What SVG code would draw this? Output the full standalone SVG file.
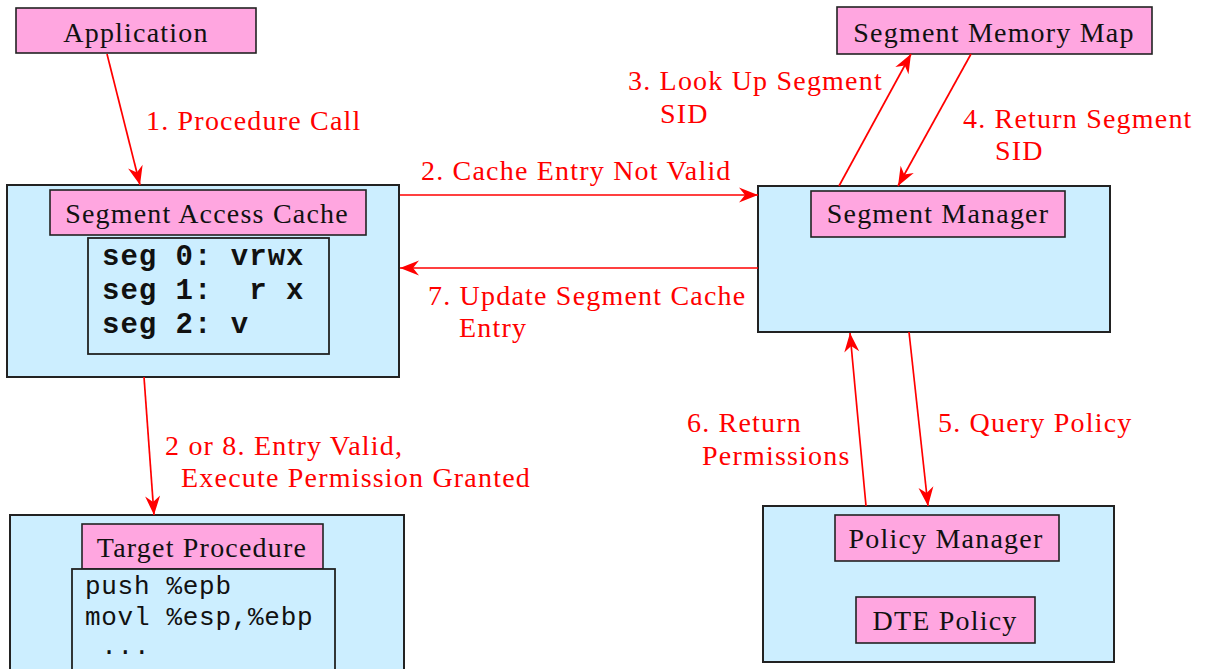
<svg xmlns="http://www.w3.org/2000/svg" width="1206" height="669" viewBox="0 0 1206 669">
<style>
.outer{fill:#cceeff;stroke:#222;stroke-width:2}
.lbl{fill:#ffa6e0;stroke:#222;stroke-width:1.6}
.code{fill:#cceeff;stroke:#222;stroke-width:1.8}
.t{font-family:"Liberation Serif","Times New Roman",serif;font-size:28px;letter-spacing:1.2px;fill:#111;text-anchor:middle}
.r{font-family:"Liberation Serif","Times New Roman",serif;font-size:28px;letter-spacing:1.2px;fill:#ff0000}
.mb{font-family:"Liberation Mono","Courier New",monospace;font-size:29px;font-weight:bold;letter-spacing:1px;fill:#111}
.m{font-family:"Liberation Mono","Courier New",monospace;font-size:26px;letter-spacing:0.7px;fill:#111}
.c{stroke:#ff0000;stroke-width:1.7;fill:none;marker-end:url(#ah)}
</style>
<defs>
<marker id="ah" markerUnits="userSpaceOnUse" markerWidth="22" markerHeight="18" viewBox="-20 -9 22 18" refX="0" refY="0" orient="auto">
<path d="M0,0 L-19,-7.5 L-13,0 L-19,7.5 Z" fill="#ff0000"/>
</marker>
</defs>
<rect width="1206" height="669" fill="#fff"/>

<g id="application">
<rect class="lbl" x="16" y="8" width="240" height="45"/>
<text class="t" x="136" y="42">Application</text>
</g>

<g id="segment-access-cache">
<rect class="outer" x="7" y="185" width="392" height="192"/>
<rect class="lbl" x="50" y="190" width="316" height="45"/>
<text class="t" x="207" y="223">Segment Access Cache</text>
<rect class="code" x="88" y="238" width="241" height="116"/>
<text class="mb" x="102" y="265" xml:space="preserve">seg 0: vrwx</text>
<text class="mb" x="102" y="299" xml:space="preserve">seg 1:  r x</text>
<text class="mb" x="102" y="333" xml:space="preserve">seg 2: v</text>
</g>

<g id="segment-memory-map">
<rect class="lbl" x="837" y="7" width="315" height="47"/>
<text class="t" x="994" y="42">Segment Memory Map</text>
</g>

<g id="segment-manager">
<rect class="outer" x="758" y="186" width="352" height="146"/>
<rect class="lbl" x="811" y="191" width="254" height="46"/>
<text class="t" x="938" y="223">Segment Manager</text>
</g>

<g id="target-procedure">
<rect class="outer" x="10" y="515" width="394" height="170"/>
<rect class="lbl" x="82" y="524" width="241" height="45"/>
<text class="t" x="202" y="557">Target Procedure</text>
<rect class="code" x="72" y="569" width="263" height="116"/>
<text class="m" x="85" y="594" xml:space="preserve">push %epb</text>
<text class="m" x="85" y="625" xml:space="preserve">movl %esp,%ebp</text>
<text class="m" x="85" y="654" xml:space="preserve"> ...</text>
</g>

<g id="policy-manager">
<rect class="outer" x="763" y="506" width="351" height="156"/>
<rect class="lbl" x="835" y="515" width="224" height="46"/>
<text class="t" x="946" y="548">Policy Manager</text>
<rect class="lbl" x="856" y="597" width="179" height="46"/>
<text class="t" x="945" y="630">DTE Policy</text>
</g>

<g id="connectors">
<line class="c" x1="107" y1="54" x2="140" y2="185"/>
<line class="c" x1="400" y1="195" x2="758" y2="195"/>
<line class="c" x1="758" y1="268" x2="400" y2="268"/>
<line class="c" x1="839" y1="186" x2="911" y2="54"/>
<line class="c" x1="971" y1="54" x2="898" y2="186"/>
<line class="c" x1="909" y1="332" x2="928" y2="506"/>
<line class="c" x1="866" y1="506" x2="850" y2="333"/>
<line class="c" x1="144" y1="377" x2="154" y2="515"/>
</g>

<g id="labels">
<text class="r" x="146" y="130">1. Procedure Call</text>
<text class="r" x="421" y="180">2. Cache Entry Not Valid</text>
<text class="r" x="428" y="305">7. Update Segment Cache</text>
<text class="r" x="459" y="337">Entry</text>
<text class="r" x="628" y="90">3. Look Up Segment</text>
<text class="r" x="660" y="123">SID</text>
<text class="r" x="963" y="128">4. Return Segment</text>
<text class="r" x="995" y="160">SID</text>
<text class="r" x="165" y="455">2 or 8. Entry Valid,</text>
<text class="r" x="181" y="487">Execute Permission Granted</text>
<text class="r" x="687" y="432">6. Return</text>
<text class="r" x="702" y="465">Permissions</text>
<text class="r" x="938" y="432">5. Query Policy</text>
</g>
</svg>
